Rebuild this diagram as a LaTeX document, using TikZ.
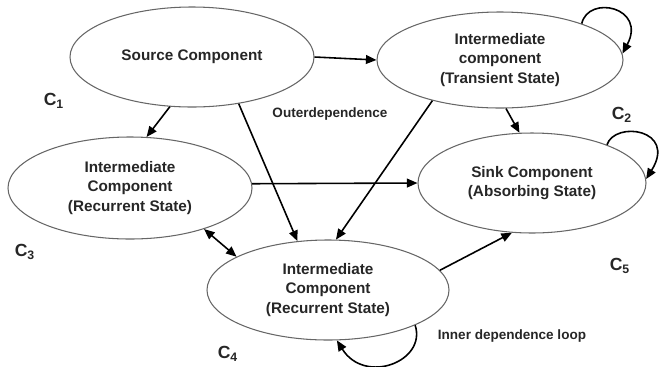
\documentclass[tikz,border=0pt]{standalone}
\usepackage{fontspec}
\setmainfont{Liberation Sans}
\usepackage{tikz}
\usetikzlibrary{shapes.geometric}
\usetikzlibrary{arrows.meta}
\usetikzlibrary{positioning}

\begin{document}
\begin{tikzpicture}[
            > = {Triangle[length=6pt,width=5pt]}, % arrow head style
            auto,
            line width = 0.9pt % line style
        ]

        \tikzstyle{comp}=[
            ellipse,
            draw = black!60,
            line width = 0.6pt,
            inner sep = 0pt,
            align = center,
            text = black!85,
            font = \fontsize{8.7}{11}\selectfont\bfseries
        ]
        \tikzstyle{note}=[text = black!85, font = \fontsize{7.7}{9}\selectfont\bfseries]
        \tikzstyle{cname}=[text = black!85, font = \fontsize{10}{12}\selectfont\bfseries]

        \useasboundingbox (0,0) rectangle (13.3,-7.32);

	% components
        \node[comp, minimum width=4.88cm, minimum height=2cm] (S) at (3.84,-1.14) {Source Component};
        \node[comp, minimum width=4.92cm, minimum height=1.92cm] (T) at (10.0,-1.2) {Intermediate\\component\\(Transient State)};
        \node[comp, minimum width=4.56cm, minimum height=2cm] (K) at (10.64,-3.66) {Sink Component\\(Absorbing State)};
        \node[comp, minimum width=4.88cm, minimum height=2.04cm] (L) at (2.6,-3.76) {Intermediate\\Component\\(Recurrent State)};
        \node[comp, minimum width=4.84cm, minimum height=2cm] (B) at (6.56,-5.8) {Intermediate\\Component\\(Recurrent State)};

        % outer dependence
        \path[->] (S.east) edge (T.west);
        \path[->] (S.-114) edge (L.72);
        \path[->] (S.-45) edge (B.122);
        \path[->] (T.-83) edge (K.104);
        \path[->] (T.-149) edge (B.81);
        \path[->] (L.2) edge (K.west);
        \path[<->] (L.-29) edge (B.160);
        \path[->] (B.10) edge (K.-112);

        % inner dependence loops
        \draw[->] (T.24) .. controls +(77:0.6) and +(62:1.05) .. (T.3);
        \draw[->] (K.27) .. controls +(72:0.51) and +(58:1.18) .. (K.2);
        \draw[->] (B.-22) .. controls +(-72:0.76) and +(-58:1.06) .. (B.-80);

        % labels
        \node[cname] (c1) at (1.08,-2.02) {C\textsubscript{1}};
        \node[cname] (c2) at (12.44,-2.3) {C\textsubscript{2}};
        \node[cname] (c3) at (0.5,-5.04) {C\textsubscript{3}};
        \node[cname] (c4) at (4.56,-7.08) {C\textsubscript{4}};
        \node[cname] (c5) at (12.4,-5.32) {C\textsubscript{5}};
        \node[note] (outer) at (6.6,-2.28) {Outerdependence};
        \node[note] (inner) at (10.24,-6.72) {Inner dependence loop};

\end{tikzpicture}
\end{document}
